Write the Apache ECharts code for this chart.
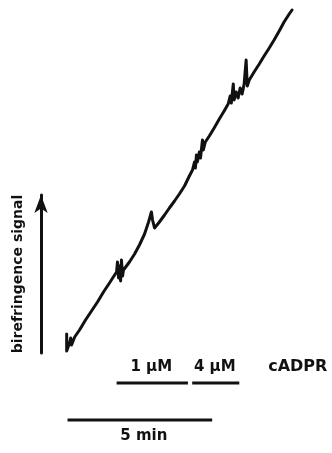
<!DOCTYPE html>
<html>
<head>
<meta charset="utf-8">
<script src="https://cdn.jsdelivr.net/npm/echarts@6/dist/echarts.min.js"></script>
<style>html,body{margin:0;padding:0;background:#fff}#c{width:332px;height:453px}</style>
</head>
<body>
<div id="c"></div>
<script>
// time in minutes, signal in arbitrary units
const traceTime = [0.00,0.00,0.10,0.14,0.17,0.28,0.45,0.66,0.87,1.08,1.29,1.50,1.68,1.75,1.78,1.82,1.85,1.89,1.92,1.96,1.99,2.06,2.20,2.38,2.55,2.73,2.87,2.97,3.01,3.08,3.25,3.43,3.60,3.78,3.95,4.13,4.30,4.41,4.48,4.51,4.55,4.58,4.65,4.69,4.76,4.79,4.86,5.00,5.17,5.35,5.52,5.66,5.73,5.77,5.84,5.87,5.94,6.01,6.08,6.15,6.22,6.29,6.33,6.40,6.57,6.75,6.92,7.10,7.27,7.45,7.62,7.80,7.90];
const traceSignal = [1.9,0.2,1.0,1.5,0.8,1.6,2.3,3.3,4.2,5.1,6.1,7.0,7.8,8.1,9.1,7.5,8.7,7.2,9.3,7.7,8.3,8.5,9.1,9.9,10.8,11.9,13.1,14.1,13.3,12.5,13.1,13.8,14.5,15.2,15.9,16.7,17.7,18.3,19.1,18.5,19.8,19.1,20.1,19.5,21.3,20.3,21.1,21.7,22.5,23.4,24.2,24.9,25.7,25.0,26.9,25.3,26.1,25.5,26.5,25.9,26.9,29.3,26.7,27.3,28.1,28.9,29.7,30.5,31.3,32.2,33.1,33.9,34.3];
// cADPR application periods (min) and labels
const cadprStart = [1.75, 4.4];
const cadprEnd = [4.25, 6.05];
const cadprLabels = ['1 \u03bcM', '4 \u03bcM'];
const cadprName = 'cADPR';
const scaleBar = [0.03, 5.1];
const scaleLabel = '5 min';
const axisName = 'birefringence signal';

const BAR_Y = -3.0, SCALE_Y = -6.7, NAME_T = 8.1, NAME_Y = -1.4;
const font = {fontFamily: 'DejaVu Sans', fontWeight: 'bold', fontSize: 15, fill: '#111'};

const chart = echarts.init(document.getElementById('c'), null, {renderer: 'canvas'});
const trace = traceTime.map((t, i) => [t, traceSignal[i]]);
// bars: [start, end, yLevel, label, labelSide]
const bars = cadprStart.map((s, i) => [s, cadprEnd[i], BAR_Y, cadprLabels[i], -1])
  .concat([[scaleBar[0], scaleBar[1], SCALE_Y, scaleLabel, 1]]);

function renderBar(params, api) {
  const s = api.coord([api.value(0), api.value(2)]);
  const e = api.coord([api.value(1), api.value(2)]);
  const side = api.value(4);
  const label = bars[params.dataIndex][3];
  const midX = (s[0] + e[0]) / 2 + (side > 0 ? 4 : -1);
  return {
    type: 'group',
    children: [
      {type: 'line', shape: {x1: s[0], y1: s[1], x2: e[0], y2: e[1]}, style: {stroke: '#111', lineWidth: 3}},
      {type: 'text', x: midX, y: s[1] + (side > 0 ? 16 : -16),
       style: Object.assign({text: label, align: 'center', verticalAlign: 'middle'}, font)}
    ]
  };
}

chart.setOption({
  animation: false,
  grid: {left: 41, width: 292, top: 195, height: 158},
  xAxis: {type: 'value', min: -0.9, max: 9.3, show: false},
  yAxis: {
    type: 'value', min: 0, max: 15.8,
    name: axisName, nameLocation: 'middle', nameRotate: 90, nameGap: 16,
    nameTextStyle: {fontFamily: 'DejaVu Sans', fontWeight: 'bold', fontSize: 14, color: '#111'},
    axisLine: {show: true, onZero: false, symbol: ['none', 'arrow'], symbolSize: [10, 18], lineStyle: {color: '#111', width: 3}},
    axisTick: {show: false}, axisLabel: {show: false}, splitLine: {show: false}
  },
  series: [
    {
      type: 'line', data: trace, clip: false, showSymbol: false, symbol: 'none',
      lineStyle: {color: '#111', width: 3, join: 'round', cap: 'round'}
    },
    {
      type: 'custom', data: bars.map(b => [b[0], b[1], b[2], 0, b[4]]), clip: false,
      renderItem: renderBar, silent: true
    },
    {
      type: 'scatter', data: [[NAME_T, NAME_Y]], clip: false, symbolSize: 0,
      itemStyle: {opacity: 1},
      label: {show: true, position: 'inside', formatter: cadprName, fontFamily: 'DejaVu Sans', fontWeight: 'bold', fontSize: 16, color: '#111', textBorderWidth: 0}
    }
  ]
});
</script>
</body>
</html>
